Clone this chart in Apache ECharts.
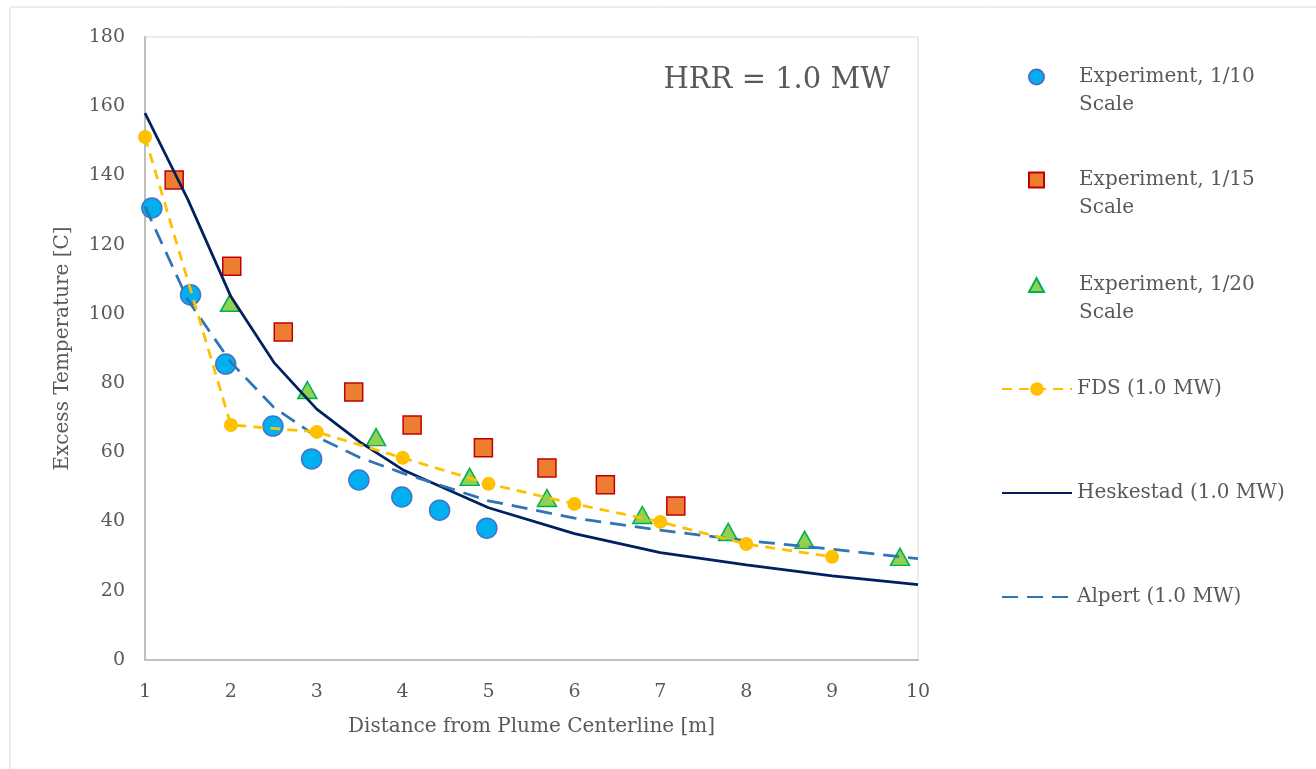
<!DOCTYPE html>
<html>
<head>
<meta charset="utf-8">
<script src="https://cdn.jsdelivr.net/npm/echarts@6/dist/echarts.min.js"></script>
<style>
  html, body { margin: 0; padding: 0; background: #fff; }
  #main { width: 1316px; height: 769px; }
</style>
</head>
<body>
<div id="main"></div>
<script>
// experiment points
var exp10X = [1.08, 1.53, 1.94, 2.49, 2.94, 3.49, 3.99, 4.43, 4.98];
var exp10Y = [130.6, 105.5, 85.5, 67.6, 58.1, 52.0, 47.1, 43.3, 38.1];
var exp15X = [1.34, 2.01, 2.61, 3.43, 4.11, 4.94, 5.68, 6.36, 7.18];
var exp15Y = [138.7, 113.8, 94.8, 77.4, 67.9, 61.3, 55.5, 50.6, 44.5];
var exp20X = [1.99, 2.89, 3.69, 4.78, 5.68, 6.79, 7.79, 8.68, 9.79];
var exp20Y = [103.2, 78.0, 64.4, 52.9, 46.8, 41.9, 37.0, 34.7, 29.8];
// FDS
var fdsX = [1, 2, 3, 4, 5, 6, 7, 8, 9];
var fdsY = [151.1, 67.9, 65.9, 58.4, 50.9, 45.1, 39.9, 33.5, 29.8];
// correlations
var modelX = [1, 1.5, 2, 2.5, 3, 3.5, 4, 5, 6, 7, 8, 9, 10];
var heskY = [158, 133, 105, 86, 72.5, 63, 55, 44, 36.5, 31, 27.5, 24.3, 21.8];
var alpertY = [131, 104, 86, 73, 64.5, 58.5, 54, 46, 41, 37.5, 34.5, 32, 29.3];

var names = ['Experiment, 1/10 Scale', 'Experiment, 1/15 Scale', 'Experiment, 1/20 Scale',
  'FDS (1.0 MW)', 'Heskestad (1.0 MW)', 'Alpert (1.0 MW)'];
var legendTops = [30, 133, 238, 370, 474, 578];
var markerIcons = ['circle', 'rect', 'triangle'];

function pairs(xs, ys){
  var out = [];
  for (var i = 0; i < xs.length; i++) out.push([xs[i], ys[i]]);
  return out;
}

var font = 'DejaVu Serif';
var grey = '#595959';
var txt = { fontFamily: font, fontSize: 20, color: grey, lineHeight: 28 };

var legends = [];
for (var i = 0; i < names.length; i++) {
  if (i < 3) {
    // marker only legends: small icon, text pushed right
    legends.push({
      data: [{ name: names[i], icon: markerIcons[i] }],
      left: 1023,
      top: legendTops[i],
      itemWidth: 15,
      itemHeight: i == 2 ? 14 : 15,
      selectedMode: false,
      formatter: function(n){ return '\n' + n.replace(' Scale', '\nScale'); },
      textStyle: Object.assign({ padding: [0, 0, 0, 30] }, txt)
    });
  } else {
    var lg = {
      data: [names[i]],
      left: 996,
      top: legendTops[i],
      itemWidth: 70,
      itemHeight: 17,
      selectedMode: false,
      textStyle: txt
    };
    if (i > 3) lg.itemStyle = { color: 'rgba(0,0,0,0)', borderWidth: 0 };
    legends.push(lg);
  }
}

var option = {
  animation: false,
  backgroundColor: '#fff',
  title: {
    text: 'HRR = 1.0 MW',
    right: 421,
    top: 61,
    textStyle: { fontFamily: font, fontSize: 29, fontWeight: 'normal', color: grey }
  },
  legend: legends,
  grid: {
    left: 145, right: 398, top: 37, bottom: 109,
    show: true, borderColor: '#d9d9d9', borderWidth: 1
  },
  graphic: [{
    type: 'rect',
    shape: { x: 10, y: 7, width: 1400, height: 900 },
    style: { fill: 'none', stroke: '#d9d9d9', lineWidth: 1 },
    silent: true
  }],
  xAxis: {
    type: 'value',
    min: 1, max: 10, interval: 1,
    name: 'Distance from Plume Centerline [m]',
    nameLocation: 'middle',
    nameGap: 57,
    nameTextStyle: { fontFamily: font, fontSize: 20, color: grey },
    axisLine: { lineStyle: { color: '#bfbfbf', width: 2 } },
    axisTick: { show: false },
    splitLine: { show: false },
    axisLabel: { fontFamily: font, fontSize: 19, color: grey, margin: 23 }
  },
  yAxis: {
    type: 'value',
    min: 0, max: 180, interval: 20,
    name: 'Excess Temperature [C]',
    nameLocation: 'middle',
    nameGap: 72,
    nameTextStyle: { fontFamily: font, fontSize: 20, color: grey },
    axisLine: { show: true, lineStyle: { color: '#bfbfbf', width: 2 } },
    axisTick: { show: false },
    splitLine: { show: false },
    axisLabel: { fontFamily: font, fontSize: 19, color: grey, margin: 20 }
  },
  series: [
    {
      name: names[4], type: 'line', data: pairs(modelX, heskY),
      symbol: 'none', lineStyle: { color: '#002060', width: 2.75 },
      itemStyle: { color: '#002060' }
    },
    {
      name: names[5], type: 'line', data: pairs(modelX, alpertY),
      symbol: 'none', lineStyle: { color: '#2e75b6', width: 2.75, type: [16, 9] },
      itemStyle: { color: '#2e75b6' }
    },
    {
      name: names[3], type: 'line', data: pairs(fdsX, fdsY),
      symbol: 'circle', symbolSize: 14, showAllSymbol: true,
      lineStyle: { color: '#ffc000', width: 2.75, type: [10, 7] },
      itemStyle: { color: '#ffc000' }
    },
    {
      name: names[0], type: 'scatter', data: pairs(exp10X, exp10Y),
      symbol: 'circle', symbolSize: 20,
      itemStyle: { color: '#00b0f0', borderColor: '#4472c4', borderWidth: 1.5, opacity: 1 }
    },
    {
      name: names[1], type: 'scatter', data: pairs(exp15X, exp15Y),
      symbol: 'rect', symbolSize: 18,
      itemStyle: { color: '#ed7d31', borderColor: '#c00000', borderWidth: 1.5, opacity: 1 }
    },
    {
      name: names[2], type: 'scatter', data: pairs(exp20X, exp20Y),
      symbol: 'triangle', symbolSize: [19, 17],
      itemStyle: { color: '#92d050', borderColor: '#00b050', borderWidth: 1.5, opacity: 1 }
    }
  ]
};

var myChart = echarts.init(document.getElementById('main'));
myChart.setOption(option);
</script>
</body>
</html>
